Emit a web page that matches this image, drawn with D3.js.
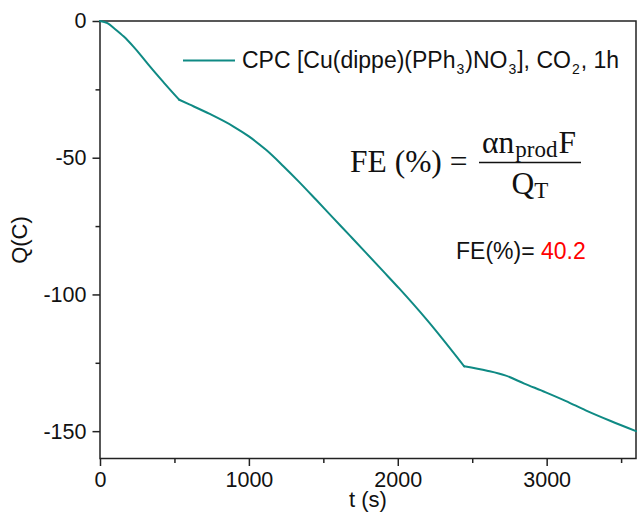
<!DOCTYPE html>
<html>
<head>
<meta charset="utf-8">
<script src="https://cdn.jsdelivr.net/npm/d3@7"></script>
<style>
  html, body { margin: 0; padding: 0; background: #fff; }
  svg { display: block; }
</style>
</head>
<body>
<svg id="chart" width="637" height="517"></svg>
<script>
// time (s) and charge (C)
const timeS = [0, 50, 100, 160, 223, 280, 335, 430, 532, 600, 737, 894, 1000, 1117, 1230, 1340,
  1450, 1564, 1680, 1787, 1900, 2011, 2200, 2446, 2600, 2721, 2850, 2994, 3130, 3262, 3430, 3600]
const chargeC = [0, -0.8, -2.9, -5.7, -9.3, -12.9, -16.6, -22.6, -28.8, -30.5, -34.0, -38.5, -42.2, -47.2, -53.0, -59.0,
  -65.3, -71.9, -78.6, -84.8, -91.4, -97.9, -109.6, -126.3, -127.9, -129.6, -132.6, -135.8, -139.0, -142.4, -146.3, -150.0]
// sharp breaks in the trace
const kinks = [532, 2446]

const xMajor = [0, 1000, 2000, 3000]
const xMinor = [500, 1500, 2500, 3500]
const yMajor = [0, -50, -100, -150]
const yMinor = [-25, -75, -125]

const fe = '40.2'

const m = {left: 100, right: 636, top: 21, bottom: 458.5}
const svg = d3.select('#chart')
const sans = 'Liberation Sans, Arial, sans-serif'
const serif = 'Liberation Serif, Times New Roman, serif'
const teal = '#0f8a84'

const x = d3.scaleLinear().domain([0, 3600]).range([m.left, m.right])
const y = d3.scaleLinear().domain([-160, 0]).range([m.bottom, m.top])
const plain = d => String(d)

// axes
const xAxis = svg.append('g').attr('transform', `translate(0,${m.bottom})`)
xAxis.call(d3.axisBottom(x).tickValues(xMinor).tickSize(4.5).tickFormat(''))
xAxis.call(g => g.append('g').call(d3.axisBottom(x).tickValues(xMajor).tickSize(7.5).tickPadding(6).tickFormat(plain)))

const yAxis = svg.append('g').attr('transform', `translate(${m.left},0)`)
yAxis.call(d3.axisLeft(y).tickValues(yMinor).tickSize(4.5).tickFormat(''))
yAxis.call(g => g.append('g').call(d3.axisLeft(y).tickValues(yMajor).tickSize(7.5).tickPadding(6).tickFormat(plain)))

svg.selectAll('.domain').remove()
svg.selectAll('.tick line').attr('stroke', '#222').attr('stroke-width', 1.5)
svg.selectAll('.tick text')
  .attr('fill', '#111')
  .style('font-family', sans)
  .style('font-size', '21.5px')

// frame
svg.append('rect')
  .attr('x', m.left).attr('y', m.top)
  .attr('width', m.right - m.left).attr('height', m.bottom - m.top)
  .attr('fill', 'none').attr('stroke', '#222').attr('stroke-width', 1.5)

// curve, smoothed piecewise between the kinks
const pts = timeS.map((t, i) => [t, chargeC[i]])
const bounds = [0, ...kinks, 3600]
const segs = d3.pairs(bounds).map(([a, b]) => pts.filter(p => p[0] >= a && p[0] <= b))
const line = d3.line().x(d => x(d[0])).y(d => y(d[1])).curve(d3.curveMonotoneX)
svg.append('g').selectAll('path')
  .data(segs)
  .enter()
  .append('path')
  .attr('d', line)
  .attr('fill', 'none')
  .attr('stroke', teal)
  .attr('stroke-width', 2)
  .attr('stroke-linejoin', 'round')
  .attr('stroke-linecap', 'round')

// axis titles
svg.append('text')
  .attr('x', (m.left + m.right) / 2).attr('y', 507)
  .attr('text-anchor', 'middle')
  .style('font-family', sans).style('font-size', '22px').attr('fill', '#111')
  .text('t (s)')

svg.append('text')
  .attr('transform', 'translate(27,240) rotate(-90)')
  .attr('text-anchor', 'middle')
  .style('font-family', sans).style('font-size', '22px').attr('fill', '#111')
  .text('Q(C)')

// legend
svg.append('line')
  .attr('x1', 183).attr('x2', 235).attr('y1', 60.5).attr('y2', 60.5)
  .attr('stroke', teal).attr('stroke-width', 2)

const leg = svg.append('text')
  .attr('x', 242).attr('y', 68)
  .style('font-family', sans).style('font-size', '23px').attr('fill', '#111')
const legParts = [['CPC [Cu(dippe)(PPh', 0], ['3', 1], [')NO', 0], ['3', 1], ['], CO', 0], ['2', 1], [', 1h', 0]]
legParts.forEach((p, i) => {
  const ts = leg.append('tspan').text(p[0])
  if (p[1]) ts.attr('dy', 6).attr('dx', 1).style('font-size', '14px')
  else if (i > 0) ts.attr('dy', -6).attr('dx', 1)
})

// formula
svg.append('text')
  .attr('x', 350).attr('y', 171.5)
  .style('font-family', serif).style('font-size', '31.5px').attr('fill', '#111')
  .text('FE (%) =')

svg.append('line')
  .attr('x1', 479).attr('x2', 581).attr('y1', 162.5).attr('y2', 162.5)
  .attr('stroke', '#111').attr('stroke-width', 1.6)

const num = svg.append('text')
  .attr('x', 529).attr('y', 153)
  .attr('text-anchor', 'middle')
  .style('font-family', serif).style('font-size', '31.5px').attr('fill', '#111')
num.append('tspan').text('αn')
num.append('tspan').attr('dy', 4).attr('dx', 1).style('font-size', '23px').text('prod')
num.append('tspan').attr('dy', -4).attr('dx', 1).text('F')

const den = svg.append('text')
  .attr('x', 530).attr('y', 194)
  .attr('text-anchor', 'middle')
  .style('font-family', serif).style('font-size', '31.5px').attr('fill', '#111')
den.append('tspan').text('Q')
den.append('tspan').attr('dy', 4).style('font-size', '23px').text('T')

const feText = svg.append('text')
  .attr('x', 456).attr('y', 258.5)
  .style('font-family', sans).style('font-size', '23px').attr('fill', '#111')
feText.append('tspan').text('FE(%)= ')
feText.append('tspan').attr('fill', '#ff0000').text(fe)
</script>
</body>
</html>
